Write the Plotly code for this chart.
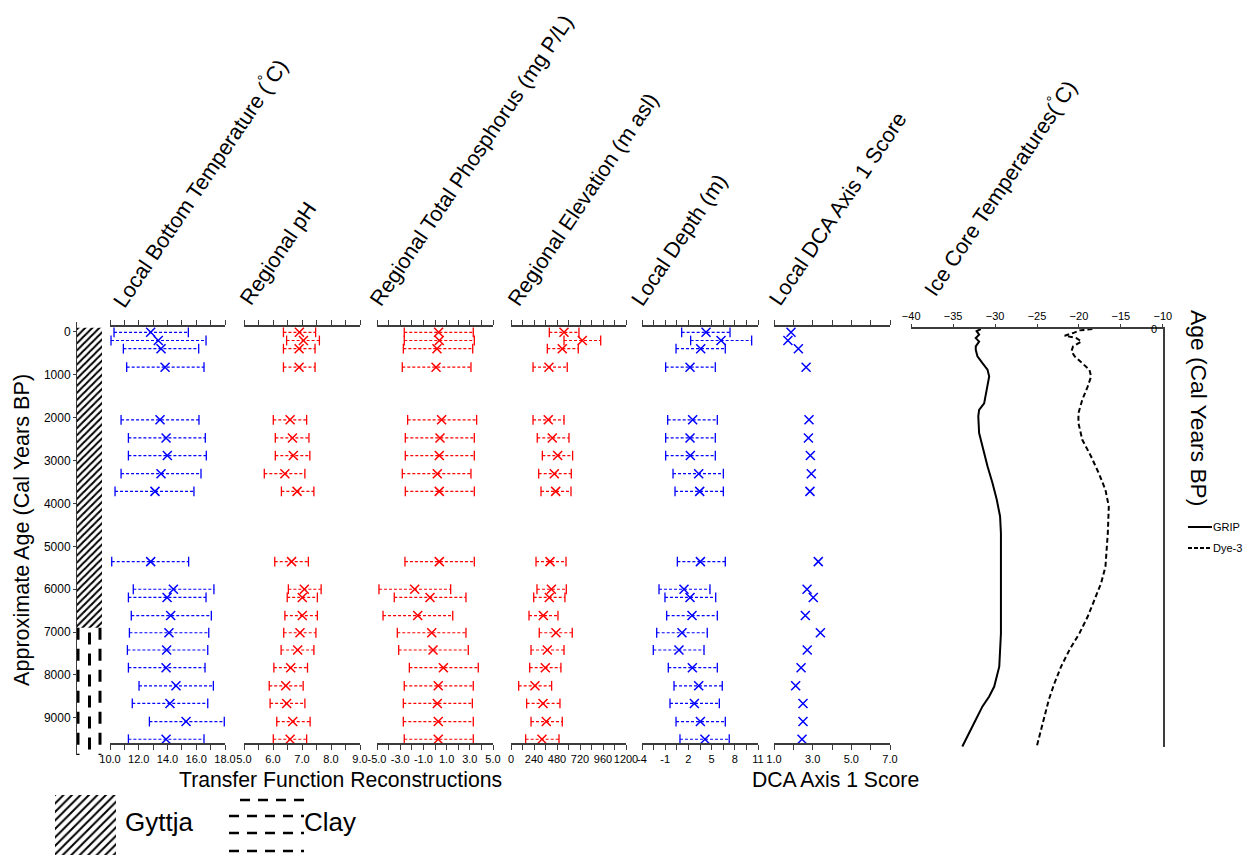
import plotly.graph_objects as go

W, H = 1257, 863
OFF = 8                      # default page body margin
FW, FH = W - 2 * OFF, H - 2 * OFF
def fx(p): return (p - OFF) / FW
def fy(p): return min(1.0, max(0.0, 1 - (p - OFF) / FH))

BLUE = "rgb(0,0,255)"
RED = "rgb(255,0,0)"
AXC = "#3c3c3c"
NARROW = "Liberation Sans Narrow, Arial Narrow, Liberation Sans, Arial"
ARIAL = "Liberation Sans, Arial"

# ---------------- data ----------------
ages = [30, 220, 410, 840, 2060, 2480, 2890, 3310, 3720, 5350,
        5990, 6180, 6600, 7000, 7400, 7810, 8230, 8640, 9060, 9470]

temp_lo = [10.28, 10.07, 10.93, 11.16, 10.77, 11.28, 11.28, 10.77, 10.35, 10.12,
           11.62, 11.28, 11.48, 11.35, 11.21, 11.28, 12.02, 11.55, 12.74, 11.28]
temp_mid = [12.83, 13.36, 13.55, 13.83, 13.48, 13.90, 13.99, 13.55, 13.13, 12.83,
            14.41, 13.97, 14.22, 14.10, 13.94, 13.90, 14.59, 14.17, 15.29, 13.90]
temp_hi = [15.45, 16.68, 16.17, 16.54, 16.19, 16.63, 16.70, 16.33, 15.84, 15.47,
           17.23, 16.68, 17.05, 16.87, 16.80, 16.61, 17.19, 16.80, 17.95, 16.54]

ph_lo = [6.36, 6.47, 6.36, 6.36, 6.01, 6.08, 6.08, 5.70, 6.29, 6.06,
         6.53, 6.49, 6.41, 6.37, 6.28, 6.03, 5.87, 5.90, 6.13, 6.01]
ph_mid = [6.91, 7.05, 6.90, 6.90, 6.59, 6.67, 6.70, 6.41, 6.83, 6.64,
          7.08, 7.01, 7.01, 6.93, 6.85, 6.61, 6.44, 6.47, 6.68, 6.59]
ph_hi = [7.47, 7.60, 7.45, 7.45, 7.16, 7.24, 7.27, 7.10, 7.41, 7.22,
         7.66, 7.53, 7.53, 7.48, 7.41, 7.19, 7.04, 7.10, 7.28, 7.16]

tp_lo = [-2.65, -2.65, -2.73, -2.82, -2.36, -2.56, -2.56, -2.82, -2.56, -2.59,
         -4.83, -3.51, -4.48, -3.25, -3.13, -2.21, -2.65, -2.73, -2.73, -2.65]
tp_mid = [0.31, 0.37, 0.17, 0.09, 0.57, 0.43, 0.37, 0.20, 0.37, 0.37,
          -1.75, -0.43, -1.49, -0.28, -0.17, 0.72, 0.28, 0.20, 0.28, 0.28]
tp_hi = [3.30, 3.39, 3.25, 3.10, 3.59, 3.39, 3.39, 3.10, 3.39, 3.39,
         1.35, 2.67, 1.53, 2.67, 2.87, 3.73, 3.30, 3.22, 3.30, 3.30]

elev_lo = [400, 553, 379, 230, 230, 274, 327, 289, 313, 261,
           271, 237, 188, 295, 209, 195, 80, 163, 209, 153]
elev_mid = [553, 744, 535, 396, 389, 431, 487, 452, 466, 407,
            421, 400, 337, 469, 379, 358, 250, 334, 368, 323]
elev_hi = [709, 936, 702, 587, 553, 605, 643, 629, 626, 574,
           577, 563, 490, 639, 553, 521, 424, 511, 535, 501]

depth_lo = [1.13, 2.29, 0.40, -0.94, -0.68, -0.94, -0.94, 0.01, 0.27, 0.57,
            -1.80, -1.03, -0.81, -2.10, -2.54, -0.60, 0.14, -0.38, 0.40, 0.91]
depth_mid = [4.28, 6.22, 3.59, 2.21, 2.55, 2.21, 2.25, 3.33, 3.46, 3.55,
             1.43, 2.21, 2.47, 1.17, 0.78, 2.51, 3.33, 2.77, 3.55, 4.14]
depth_hi = [7.38, 10.18, 6.77, 5.48, 5.74, 5.48, 5.48, 6.52, 6.52, 6.77,
            4.79, 5.53, 5.74, 4.44, 4.02, 5.74, 6.38, 6.00, 6.77, 7.28]

dca_score = [1.88, 1.72, 2.26, 2.66, 2.81, 2.78, 2.88, 2.93, 2.86, 3.29,
             2.71, 3.03, 2.62, 3.40, 2.72, 2.40, 2.12, 2.50, 2.50, 2.45]
dca_stray_x = [0.62]
dca_stray_age = [220]

grip_age = [0, 50, 130, 210, 290, 400, 480, 630, 790, 940, 1100, 1330, 1560, 1720,
            1870, 2020, 2410, 2800, 3180, 3570, 3950, 4340, 4730, 5500, 6270, 7050,
            7820, 8280, 8510, 8740, 9050, 9360, 9670]
grip_temp = [-31.7, -32.2, -31.9, -32.3, -31.9, -32.3, -32.3, -32.1, -31.5, -30.9, -30.7,
             -30.9, -31.1, -31.3, -31.9, -32.0, -31.9, -31.4, -30.9, -30.3, -29.8, -29.4,
             -29.3, -29.3, -29.3, -29.3, -29.5, -30.1, -30.7, -31.5, -32.3, -33.1, -33.9]

dye_age = [0, 31, 93, 155, 209, 287, 402, 518, 634, 788, 943, 1097, 1329, 1638, 1947,
           2179, 2565, 2951, 3338, 3724, 4110, 4728, 5500, 5887, 6272, 6659, 7045, 7431,
           7817, 8203, 8590, 8976, 9362, 9670]
dye_temp = [-18.4, -19.9, -20.7, -21.7, -20.3, -19.7, -20.7, -20.9, -20.5, -19.6, -18.75,
            -18.55, -18.95, -19.6, -20.06, -20.06, -19.6, -18.55, -17.64, -16.84, -16.44,
            -16.56, -16.84, -17.36, -18.15, -18.95, -19.94, -21.13, -22.13, -22.92, -23.6,
            -24.11, -24.63, -25.03]

litho_top = -100
gyttja_clay_boundary = 6900
litho_bottom = 9866

age_ticks = [0, 1000, 2000, 3000, 4000, 5000, 6000, 7000, 8000, 9000]

temp_ticks = [10, 11, 12, 13, 14, 15, 16, 17, 18]
temp_labels = ["10.0", "", "12.0", "", "14.0", "", "16.0", "", "18.0"]
ph_ticks = [5, 5.5, 6, 6.5, 7, 7.5, 8, 8.5, 9]
ph_labels = ["5.0", "", "6.0", "", "7.0", "", "8.0", "", "9.0"]
tp_ticks = [-5, -4, -3, -2, -1, 0, 1, 2, 3, 4, 5]
tp_labels = ["-5.0", "", "-3.0", "", "-1.0", "", "1.0", "", "3.0", "", "5.0"]
elev_ticks = [0, 120, 240, 360, 480, 600, 720, 840, 960, 1080, 1200]
elev_labels = ["0", "", "240", "", "480", "", "720", "", "960", "", "1200"]
depth_ticks = [-4, -2.5, -1, 0.5, 2, 3.5, 5, 6.5, 8, 9.5, 11]
depth_labels = ["-4", "", "-1", "", "2", "", "5", "", "8", "", "11"]
dca_ticks = [1, 2, 3, 4, 5, 6, 7]
dca_labels = ["1.0", "", "3.0", "", "5.0", "", "7.0"]
ice_ticks = [-40, -35, -30, -25, -20, -15, -10]

titles = ["Local Bottom Temperature (<sup>°</sup>C)", "Regional pH",
          "Regional Total Phosphorus (mg P/L)", "Regional Elevation (m asl)",
          "Local Depth (m)", "Local DCA Axis 1 Score", "Ice Core Temperatures(<sup>°</sup>C)"]

# ---------------- layout geometry (pixels) ----------------
panels = [
    dict(lo=temp_lo, mid=temp_mid, hi=temp_hi, color=BLUE, dom=(110, 225), rng=[10, 18],
         tv=temp_ticks, tt=temp_labels),
    dict(lo=ph_lo, mid=ph_mid, hi=ph_hi, color=RED, dom=(244, 360), rng=[5, 9],
         tv=ph_ticks, tt=ph_labels),
    dict(lo=tp_lo, mid=tp_mid, hi=tp_hi, color=RED, dom=(377, 493), rng=[-5, 5],
         tv=tp_ticks, tt=tp_labels),
    dict(lo=elev_lo, mid=elev_mid, hi=elev_hi, color=RED, dom=(511, 626), rng=[0, 1200],
         tv=elev_ticks, tt=elev_labels),
    dict(lo=depth_lo, mid=depth_mid, hi=depth_hi, color=BLUE, dom=(642, 758), rng=[-4, 11],
         tv=depth_ticks, tt=depth_labels),
    dict(lo=None, mid=dca_score, hi=None, color=BLUE, dom=(774, 890), rng=[1, 7],
         tv=dca_ticks, tt=dca_labels),
]

fig = go.Figure()

# lithology column
fig.add_trace(go.Bar(x=[0], y=[gyttja_clay_boundary - litho_top], base=[litho_top], width=1,
                     xaxis="x", yaxis="y", showlegend=False,
                     marker=dict(color="white", line=dict(width=0),
                                 pattern=dict(shape="/", fgcolor="black", bgcolor="white",
                                              size=5, solidity=0.4, fgopacity=1))))
for cx, phase in [(-0.46, 0), (0.0, 110), (0.42, 0)]:
    fig.add_trace(go.Scatter(x=[cx, cx], y=[gyttja_clay_boundary + phase, litho_bottom],
                             xaxis="x", yaxis="y", mode="lines", showlegend=False,
                             line=dict(color="black", width=3, dash="12px,9px")))

# panels
for i, p in enumerate(panels):
    xa = "x%d" % (i + 2)
    if p["lo"] is not None:
        lx, ly = [], []
        for a, l, h in zip(ages, p["lo"], p["hi"]):
            lx += [l, h, None]
            ly += [a, a, None]
        fig.add_trace(go.Scatter(x=lx, y=ly, xaxis=xa, yaxis="y2", mode="lines",
                                 showlegend=False, cliponaxis=False,
                                 line=dict(color=p["color"], width=1.2, dash="3px,2px")))
        fig.add_trace(go.Scatter(x=p["lo"] + p["hi"], y=ages + ages, xaxis=xa, yaxis="y2",
                                 mode="markers", showlegend=False, cliponaxis=False,
                                 marker=dict(symbol="line-ns-open", size=7, color=p["color"],
                                             line=dict(color=p["color"], width=1.3))))
    fig.add_trace(go.Scatter(x=p["mid"], y=ages, xaxis=xa, yaxis="y2", mode="markers",
                             showlegend=False, cliponaxis=False,
                             marker=dict(symbol="x-thin-open", size=9, color=p["color"],
                                         line=dict(color=p["color"], width=1.5))))

fig.add_trace(go.Scatter(x=dca_stray_x, y=dca_stray_age, xaxis="x7", yaxis="y2",
                         mode="markers", showlegend=False, cliponaxis=False,
                         marker=dict(symbol="line-ns-open", size=7, color=RED,
                                     line=dict(color=RED, width=1.3))))

# ice core
fig.add_trace(go.Scatter(x=grip_temp, y=grip_age, xaxis="x8", yaxis="y3", mode="lines",
                         name="GRIP", showlegend=False, line=dict(color="black", width=2)))
fig.add_trace(go.Scatter(x=dye_temp, y=dye_age, xaxis="x8", yaxis="y3", mode="lines",
                         name="Dye-3", showlegend=False,
                         line=dict(color="black", width=2, dash="5px,3px")))

# Gyttja legend swatch
fig.add_trace(go.Bar(x=[0], y=[1], width=1, xaxis="x9", yaxis="y4", showlegend=False,
                     marker=dict(color="white", line=dict(width=0),
                                 pattern=dict(shape="/", fgcolor="black", bgcolor="white",
                                              size=6, solidity=0.33, fgopacity=1))))

layout = dict(
    width=FW, height=FH, margin=dict(l=0, r=0, t=0, b=0, autoexpand=False),
    paper_bgcolor="white", plot_bgcolor="rgba(0,0,0,0)",
    font=dict(family=ARIAL, color="black"), showlegend=False,
    xaxis=dict(domain=[fx(77), fx(102)], range=[-0.5, 0.5], visible=False, anchor="y",
               automargin=False),
    yaxis=dict(domain=[fy(755), fy(322)], range=[litho_bottom, -233], anchor="x",
               showline=True, linecolor=AXC, linewidth=1, ticks="outside", ticklen=3,
               tickcolor=AXC, tickvals=age_ticks, showgrid=False, zeroline=False,
               tickfont=dict(size=12, family=ARIAL), automargin=False),
    yaxis2=dict(domain=[fy(743), fy(327)], range=[9557, -93], visible=False, anchor="x2",
                showgrid=False, zeroline=False, automargin=False),
    yaxis3=dict(domain=[fy(747), fy(329)], range=[9680, -1], anchor="x8", side="right",
                showline=True, linecolor=AXC, linewidth=1.5, ticks="",
                showticklabels=False, showgrid=False, zeroline=False, automargin=False),
    yaxis5=dict(domain=[fy(747), fy(329)], range=[9680, -1], overlaying="y3",
                anchor="free", position=fx(1161), side="left", showline=False, ticks="",
                tickvals=age_ticks, showgrid=False, zeroline=False, automargin=False,
                ticklabeloverflow="allow", tickfont=dict(size=11, family=NARROW)),
    xaxis8=dict(domain=[fx(911), fx(1163)], range=[-40.02, -9.98], anchor="y3", side="top",
                showline=True, linecolor=AXC, linewidth=1.5, ticks="outside", ticklen=3,
                tickcolor=AXC, tickvals=ice_ticks, showgrid=False, zeroline=False,
                tickfont=dict(size=11, family=NARROW), automargin=False, tickangle=0),
    xaxis9=dict(domain=[fx(55), fx(116)], range=[-0.5, 0.5], visible=False, anchor="y4",
                automargin=False),
    yaxis4=dict(domain=[fy(858), fy(795)], range=[0, 1], visible=False, anchor="x9",
                automargin=False),
)
for i, p in enumerate(panels):
    layout["xaxis%d" % (i + 2)] = dict(
        domain=[fx(p["dom"][0]), fx(p["dom"][1])], range=p["rng"], anchor="y2",
        showline=True, mirror="ticks", linecolor=AXC, linewidth=1.5,
        ticks="outside", ticklen=5, tickcolor=AXC, tickwidth=1.2,
        tickvals=p["tv"], ticktext=p["tt"], showgrid=False, zeroline=False,
        tickfont=dict(size=11, family=NARROW), tickangle=0, automargin=False)
fig.update_layout(**layout)

# "0" label at the top of the ice-core age axis (hidden by plotly at the axis edge)
fig.add_annotation(text=str(age_ticks[0]), xref="paper", yref="y3", x=fx(1159), y=age_ticks[0],
                   xanchor="right", yanchor="middle", showarrow=False,
                   font=dict(size=11, family=NARROW))

# rotated panel titles
title_pos = [(113, 310), (243, 307), (373, 308), (512, 308), (635, 308), (773, 308), (925, 298)]
for t, (px, py) in zip(titles, title_pos):
    fig.add_annotation(text=t, xref="paper", yref="paper", x=fx(px - 11), y=fy(py + 5),
                       xanchor="left", yanchor="bottom", textangle=-56, showarrow=False,
                       font=dict(size=21.5, family=ARIAL))

ann = [
    ("Approximate Age (Cal Years BP)", 21, 530, -90, 21.6),
    ("Age (Cal Years BP)", 1199, 408, 90, 22.8),
    ("Transfer Function Reconstructions", 340, 779, 0, 21.2),
    ("DCA Axis 1 Score", 835, 779, 0, 21.2),
]
for t, px, py, ang, sz in ann:
    fig.add_annotation(text=t, xref="paper", yref="paper", x=fx(px), y=fy(py),
                       xanchor="center", yanchor="middle", textangle=ang, showarrow=False,
                       font=dict(size=sz, family=ARIAL))
fig.add_annotation(text="Gyttja", xref="paper", yref="paper", x=fx(123), y=fy(822),
                   xanchor="left", yanchor="middle", showarrow=False, font=dict(size=26))
fig.add_annotation(text="Clay", xref="paper", yref="paper", x=fx(302), y=fy(822),
                   xanchor="left", yanchor="middle", showarrow=False, font=dict(size=26))

# ice core legend
for lab, py, dash in [("GRIP", 527, "solid"), ("Dye-3", 548, "4px,2px")]:
    fig.add_shape(type="line", xref="paper", yref="paper", x0=fx(1188), x1=fx(1212),
                  y0=fy(py), y1=fy(py), line=dict(color="black", width=2, dash=dash))
    fig.add_annotation(text=lab, xref="paper", yref="paper", x=fx(1211), y=fy(py),
                       xanchor="left", yanchor="middle", showarrow=False,
                       font=dict(size=11, family=NARROW))

# clay legend swatch (dashed rows)
clay_rows = [(800, 240), (816, 229), (833, 229), (851, 229)]
for py, x0 in clay_rows:
    fig.add_shape(type="line", xref="paper", yref="paper", x0=fx(x0), x1=fx(304),
                  y0=fy(py), y1=fy(py), line=dict(color="black", width=2.5, dash="10px,8px"))

fig.write_html("out.html")
